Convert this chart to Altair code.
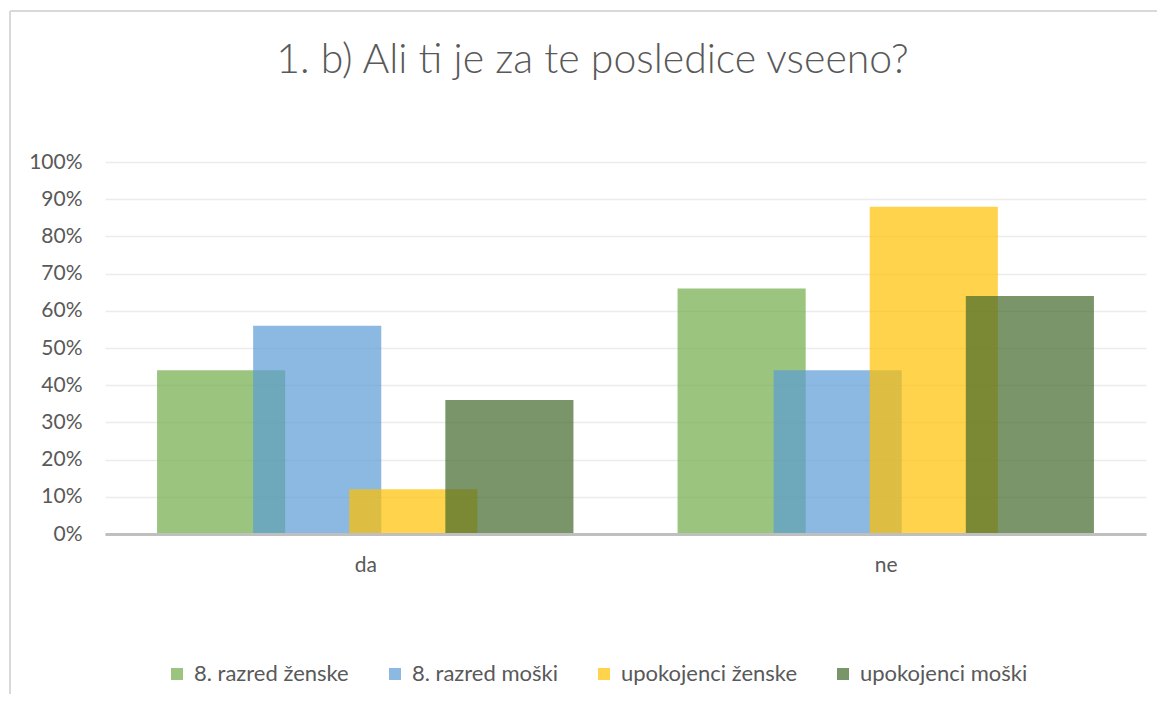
import altair as alt
import pandas as pd

categories = ["da", "ne"]
series = ["8. razred ženske", "8. razred moški", "upokojenci ženske", "upokojenci moški"]
colors = ["#70AD47", "#5B9BD5", "#FFC000", "#43682B"]
values = {
    "8. razred ženske": [0.44, 0.66],
    "8. razred moški": [0.56, 0.44],
    "upokojenci ženske": [0.12, 0.88],
    "upokojenci moški": [0.36, 0.64],
}
title_text = "1. b) Ali ti je za te posledice vseeno?"

rows = []
for si, s in enumerate(series):
    for ci, c in enumerate(categories):
        rows.append({"category": c, "series": s, "value": values[s][ci], "ci": ci, "si": si})
df = pd.DataFrame(rows)

# Excel-like clustered bars: 25% overlap, group takes 80% of band
bw = 0.8 / 3.25
step = 0.75 * bw

FONT = "Lato"
GREY = "#595959"

label_expr = "[" + ",".join(f"'{c}'" for c in categories) + "][floor(datum.value)]"

bars = alt.Chart(df).mark_bar(opacity=0.7).transform_calculate(
    x0=f"datum.ci + 0.1 + datum.si * {step}",
    x1=f"datum.ci + 0.1 + datum.si * {step} + {bw}",
).encode(
    x=alt.X("x0:Q",
            scale=alt.Scale(domain=[0, len(categories)], nice=False, zero=False),
            axis=alt.Axis(values=[i + 0.5 for i in range(len(categories))],
                          labelExpr=label_expr, title=None, grid=False, ticks=False,
                          domain=True, domainColor="#bfbfbf", domainWidth=3,
                          labelFont=FONT, labelFontSize=21, labelColor=GREY,
                          labelPadding=20, zindex=1)),
    x2="x1:Q",
    y=alt.Y("value:Q", stack=None,
            scale=alt.Scale(domain=[0, 1], nice=False),
            axis=alt.Axis(values=[i / 10 for i in range(11)], format=".0%", title=None,
                          grid=True, gridColor="#ececec", gridWidth=1.5,
                          ticks=False, domain=False,
                          labelFont=FONT, labelFontSize=21, labelColor=GREY,
                          labelPadding=23)),
    y2=alt.datum(0),
    color=alt.Color("series:N",
                    scale=alt.Scale(domain=series, range=colors),
                    sort=series,
                    legend=alt.Legend(title=None, orient="none", direction="horizontal",
                                      legendX=61, legendY=501,
                                      symbolType="square", symbolSize=144,
                                      labelFont=FONT, labelFontSize=22, labelColor=GREY,
                                      labelLimit=0, labelOffset=6, columnPadding=35)),
    order=alt.Order("si:Q"),
)

frame_left = alt.Chart(df).mark_rule(color="#d9d9d9", strokeWidth=1.5).encode(
    x=alt.value(-95), y=alt.value(-151), y2=alt.value(560))
frame_top = alt.Chart(df).mark_rule(color="#d9d9d9", strokeWidth=1.5).encode(
    x=alt.value(-95), x2=alt.value(1070), y=alt.value(-151))

chart = alt.layer(frame_left, frame_top, bars).properties(
    width=1041,
    height=372,
    autosize=alt.AutoSizeParams(type="none"),
    padding={"left": 97, "top": 154, "right": 11, "bottom": 160},
    title=alt.TitleParams(title_text, font=FONT, fontSize=41, fontWeight=300,
                          color=GREY, offset=0, dy=72, dx=-33, anchor="middle",
                          frame="group"),
).configure_view(stroke=None)

chart.save("out.html", embed_options={"renderer": "svg", "actions": False})
